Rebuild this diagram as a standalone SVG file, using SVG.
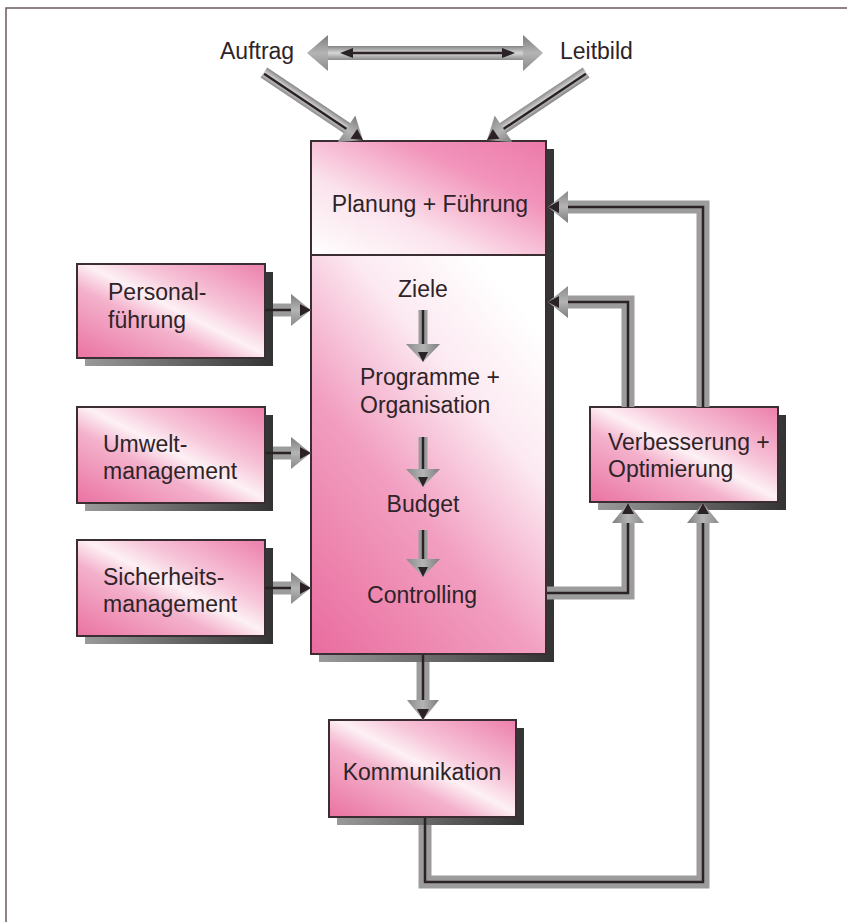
<svg xmlns="http://www.w3.org/2000/svg" xmlns:xlink="http://www.w3.org/1999/xlink" width="847" height="922" viewBox="0 0 847 922">
<defs>
<style>
.t{font-family:"Liberation Sans",Arial,Helvetica,sans-serif;font-size:23px;fill:#2e2428}
.box{stroke:#3a2e33;stroke-width:2}
.sh{fill:url(#gsh)}
.gs{fill:none;stroke:#9c9c9c;stroke-width:13;stroke-linejoin:miter}
.gsn{fill:none;stroke:#9c9c9c;stroke-width:9}
.dk{fill:none;stroke:#2a2226;stroke-width:2.5;stroke-linejoin:miter}
</style>
<linearGradient id="gp" x1="0" y1="1" x2="1" y2="0">
<stop offset="0" stop-color="#ea72a2"/>
<stop offset="0.38" stop-color="#f4b2cc"/>
<stop offset="0.52" stop-color="#fdf1f5"/>
<stop offset="0.66" stop-color="#f7c6d9"/>
<stop offset="1" stop-color="#ec7eab"/>
</linearGradient>
<linearGradient id="gtop" x1="0" y1="1" x2="1" y2="0">
<stop offset="0" stop-color="#ffffff"/>
<stop offset="0.35" stop-color="#fbe2ec"/>
<stop offset="0.7" stop-color="#f294bb"/>
<stop offset="1" stop-color="#ec7aa8"/>
</linearGradient>
<linearGradient id="glow" x1="0" y1="1" x2="0.7" y2="0">
<stop offset="0" stop-color="#e96c9e"/>
<stop offset="0.45" stop-color="#f29fc1"/>
<stop offset="0.75" stop-color="#fce9f1"/>
<stop offset="1" stop-color="#ffffff"/>
</linearGradient>
<linearGradient id="gsh" x1="0" y1="0" x2="1" y2="0">
<stop offset="0" stop-color="#9a9a9a"/>
<stop offset="1" stop-color="#333333"/>
</linearGradient>
<linearGradient id="ghd" x1="0" y1="0" x2="0" y2="1">
<stop offset="0" stop-color="#7c7c7c"/>
<stop offset="0.5" stop-color="#b4b4b4"/>
<stop offset="1" stop-color="#8a8a8a"/>
</linearGradient>
<linearGradient id="gh" x1="0" y1="0" x2="0" y2="1">
<stop offset="0" stop-color="#858585"/>
<stop offset="0.5" stop-color="#d6d6d6"/>
<stop offset="1" stop-color="#8c8c8c"/>
</linearGradient>
<g id="head">
<polygon points="0,0 -20,-16 -20,16" fill="url(#ghd)"/>
<polygon points="0,0 -11,-6 -11,6" fill="#2a2226"/>
</g>
<g id="headS">
<polygon points="0,0 -18,-17 -18,17" fill="url(#ghd)"/>
<polygon points="0,0 -10,-5 -10,5" fill="#2a2226"/>
</g>
</defs>

<rect width="847" height="922" fill="#ffffff"/>
<path d="M6,922 V8 H847" fill="none" stroke="#6a5a60" stroke-width="1.5"/>

<g id="auftrag"><text class="t" x="220" y="59">Auftrag</text></g>
<g id="leitbild"><text class="t" x="560" y="59">Leitbild</text></g>

<g id="main">
<rect class="sh" x="319" y="149" width="235" height="513"/>
<rect x="311" y="141" width="235" height="114" fill="url(#gtop)"/>
<rect x="311" y="255" width="235" height="399" fill="url(#glow)"/>
<rect class="box" x="311" y="141" width="235" height="513" fill="none"/>
<line class="box" x1="311" y1="255" x2="546" y2="255"/>
<text class="t" x="430" y="212" text-anchor="middle">Planung + Führung</text>
<text class="t" x="423" y="297" text-anchor="middle">Ziele</text>
<text class="t" x="360" y="385">Programme +</text>
<text class="t" x="360" y="413">Organisation</text>
<text class="t" x="423" y="512" text-anchor="middle">Budget</text>
<text class="t" x="422" y="603" text-anchor="middle">Controlling</text>
</g>

<g id="personal">
<rect class="sh" x="85" y="272" width="188" height="94"/>
<rect class="box" x="77" y="264" width="188" height="94" fill="url(#gp)"/>
<text class="t" x="108" y="300">Personal-</text>
<text class="t" x="108" y="328">führung</text>
</g>

<g id="umwelt">
<rect class="sh" x="85" y="415" width="188" height="96"/>
<rect class="box" x="77" y="407" width="188" height="96" fill="url(#gp)"/>
<text class="t" x="103" y="452">Umwelt-</text>
<text class="t" x="103" y="479">management</text>
</g>

<g id="sicherheit">
<rect class="sh" x="85" y="548" width="188" height="96"/>
<rect class="box" x="77" y="540" width="188" height="96" fill="url(#gp)"/>
<text class="t" x="103" y="585">Sicherheits-</text>
<text class="t" x="103" y="612">management</text>
</g>

<g id="verbesserung">
<rect class="sh" x="598" y="415" width="188" height="95"/>
<rect class="box" x="590" y="407" width="188" height="95" fill="url(#gp)"/>
<text class="t" x="608" y="450">Verbesserung +</text>
<text class="t" x="608" y="477">Optimierung</text>
</g>

<g id="kommunikation">
<rect class="sh" x="337" y="728" width="187" height="97"/>
<rect class="box" x="329" y="720" width="187" height="97" fill="url(#gp)"/>
<text class="t" x="422" y="780" text-anchor="middle">Kommunikation</text>
</g>

<g id="connectors">
<!-- Auftrag <-> Leitbild -->
<rect x="326" y="46" width="199" height="14" fill="url(#gh)"/>
<polygon points="307,53 328,35 328,71" fill="url(#ghd)"/>
<polygon points="543,53 523,35 523,71" fill="url(#ghd)"/>
<line class="dk" x1="345" y1="53" x2="510" y2="53"/>
<polygon points="340,53 353,48 353,58" fill="#2a2226"/>
<polygon points="515,53 502,48 502,58" fill="#2a2226"/>

<!-- Auftrag -> Planung -->
<g transform="translate(363,140) rotate(33.8)">
<rect x="-120" y="-7" width="102" height="12" fill="url(#gh)"/>
<line class="dk" x1="-119" y1="0" x2="-8" y2="0"/>
<use xlink:href="#head"/>
</g>
<!-- Leitbild -> Planung -->
<g transform="translate(487,140) rotate(146.2)">
<rect x="-120" y="-5" width="102" height="12" fill="url(#gh)"/>
<line class="dk" x1="-119" y1="0" x2="-8" y2="0"/>
<use xlink:href="#head"/>
</g>

<!-- left inputs -->
<line class="gs" x1="273" y1="310" x2="293" y2="310"/>
<line class="dk" x1="265" y1="310" x2="302" y2="310"/>
<use xlink:href="#head" transform="translate(311,310)"/>

<line class="gs" x1="273" y1="453" x2="293" y2="453"/>
<line class="dk" x1="265" y1="453" x2="302" y2="453"/>
<use xlink:href="#head" transform="translate(311,453)"/>

<line class="gs" x1="273" y1="588" x2="293" y2="588"/>
<line class="dk" x1="265" y1="588" x2="302" y2="588"/>
<use xlink:href="#head" transform="translate(311,588)"/>

<!-- internal flow -->
<line class="gsn" x1="423" y1="310" x2="423" y2="346"/>
<line class="dk" x1="423" y1="310" x2="423" y2="354"/>
<use xlink:href="#headS" transform="translate(423,362) rotate(90)"/>

<line class="gsn" x1="423" y1="437" x2="423" y2="471"/>
<line class="dk" x1="423" y1="437" x2="423" y2="479"/>
<use xlink:href="#headS" transform="translate(423,487) rotate(90)"/>

<line class="gsn" x1="423" y1="530" x2="423" y2="561"/>
<line class="dk" x1="423" y1="530" x2="423" y2="569"/>
<use xlink:href="#headS" transform="translate(423,577) rotate(90)"/>

<!-- main -> Kommunikation -->
<line class="gs" x1="423" y1="662" x2="423" y2="701"/>
<line class="dk" x1="423" y1="655" x2="423" y2="711"/>
<use xlink:href="#head" transform="translate(423,720) rotate(90)"/>

<!-- feedback 1 -->
<polyline class="gs" points="703,407 703,207 566,207"/>
<polyline class="dk" points="703,407 703,207 557,207"/>
<use xlink:href="#head" transform="translate(548,207) rotate(180)"/>

<!-- feedback 2 -->
<polyline class="gs" points="628,407 628,302 566,302"/>
<polyline class="dk" points="628,407 628,302 557,302"/>
<use xlink:href="#head" transform="translate(548,302) rotate(180)"/>

<!-- Controlling -> Verbesserung -->
<polyline class="gs" points="547,593 628,593 628,521"/>
<polyline class="dk" points="547,593 628,593 628,512"/>
<use xlink:href="#head" transform="translate(628,503) rotate(-90)"/>

<!-- Kommunikation -> Verbesserung -->
<polyline class="gs" points="425,825 425,882 703,882 703,521"/>
<polyline class="dk" points="425,818 425,882 703,882 703,512"/>
<use xlink:href="#head" transform="translate(703,503) rotate(-90)"/>
</g>
</svg>
